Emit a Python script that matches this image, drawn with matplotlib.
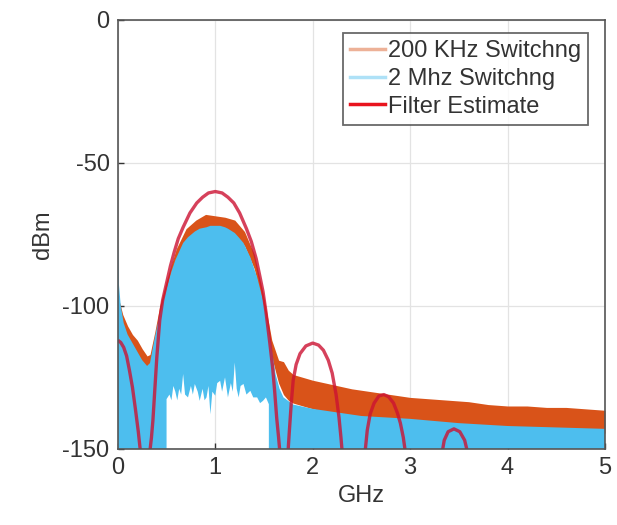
import matplotlib
matplotlib.use("Agg")
import matplotlib.pyplot as plt
from matplotlib.lines import Line2D

plt.rcParams['font.family'] = ['Liberation Sans', 'DejaVu Sans']
plt.rcParams['axes.unicode_minus'] = False

# ---- data (GHz, dBm) ----
x_orange = [0, 0.02, 0.05, 0.1, 0.15, 0.2, 0.25, 0.3, 0.33, 0.38, 0.43, 0.5, 0.6, 0.7, 0.8, 0.9,
            1.0, 1.1, 1.2, 1.3, 1.4, 1.5, 1.58, 1.65, 1.7, 1.75, 1.8, 1.9, 2.0, 2.2, 2.4, 2.6,
            2.8, 3.0, 3.2, 3.4, 3.6, 3.8, 4.0, 4.2, 4.4, 4.6, 4.8, 5.0]
orange_hi = [-98, -99, -103, -107, -110, -112, -115, -117.5, -117, -109, -100, -91, -80, -73, -70, -68,
             -68.5, -69, -70, -74, -82, -97, -112, -119, -119.5, -122.5, -124, -125, -126, -127.5, -129, -130,
             -131, -132, -132.5, -133, -133.5, -134.5, -135, -135, -135.5, -135.5, -136, -136.5]
orange_lo = [-104, -104, -107, -111, -114, -117, -120, -122, -122, -114, -106, -96, -85, -77, -74, -73,
             -73, -73.5, -75, -79, -87, -102, -118, -127, -131, -133, -134, -135, -136, -137.5, -139.5, -140,
             -140.5, -141, -141.5, -142, -142.5, -143, -143.5, -143.5, -144, -144, -144.5, -144.5]

# upper edge of the 2 MHz trace
x_blue = [0, 0.01, 0.03, 0.06, 0.1, 0.15, 0.2, 0.25, 0.3, 0.33, 0.38, 0.43, 0.5, 0.55, 0.59,
          0.63, 0.67, 0.72, 0.79, 0.84, 0.91, 0.95, 1.0, 1.05, 1.1, 1.13, 1.2, 1.24, 1.29, 1.36, 1.43,
          1.49, 1.55, 1.56, 1.62, 1.66, 1.7, 1.8, 2.0, 2.5, 3.0, 3.5, 4.0, 4.5, 5.0]
blue_hi = [-75, -92, -100, -106, -110, -113, -116, -119, -121, -120, -111, -103, -94, -88, -84,
           -81, -78, -76, -74, -73, -72.5, -72, -72, -72, -72.5, -73, -74.5, -76, -78, -83, -90,
           -98, -109, -111, -124, -129, -132, -134.5, -136, -138.5, -139.5, -141, -142, -142.5, -143]
# lower edge of the 2 MHz trace (white notch under the main lobe)
x_blue_lo = [0, 0.50, 0.50, 0.53, 0.55, 0.57, 0.59, 0.61, 0.63, 0.65, 0.67, 0.69, 0.72, 0.75, 0.77,
             0.79, 0.82, 0.84, 0.87, 0.89, 0.91, 0.93, 0.95, 0.97, 1.0, 1.02, 1.05, 1.07, 1.1, 1.13,
             1.16, 1.18, 1.2, 1.22, 1.24, 1.26, 1.29, 1.32, 1.36, 1.39, 1.43, 1.46, 1.49, 1.52, 1.55,
             1.55, 5.0]
blue_lo = [-150, -150, -132.6, -131, -133, -128, -130, -133, -129, -131, -123.8, -131, -132, -128, -131,
           -127.3, -130, -133.2, -129, -133, -132, -128, -137.9, -130, -131.4, -127, -126.2, -130, -125, -132,
           -127, -130, -119.8, -129, -132, -128, -127.3, -131, -129.7, -132, -132, -134, -133.2, -132, -134.4,
           -150, -150]

filt_x0 = [0, 0.03, 0.06, 0.09, 0.12, 0.15, 0.18, 0.21, 0.235]
filt_y0 = [-112, -112.8, -114.5, -117.5, -122.7, -128.5, -136, -144, -152]
filt_x1 = [0.325, 0.345, 0.36, 0.38, 0.40, 0.43, 0.46, 0.5, 0.54, 0.58, 0.62, 0.67, 0.74, 0.81, 0.87,
           0.93, 1.0, 1.07, 1.13, 1.19, 1.25, 1.32, 1.37, 1.42, 1.46, 1.49, 1.52, 1.56, 1.59, 1.61,
           1.63, 1.65, 1.665]
filt_y1 = [-152, -146, -140, -129, -118, -105, -98, -92, -86, -81, -76.5, -72.5, -67.5, -64, -62,
           -60.5, -60, -60.5, -62, -64, -67.5, -73, -77.5, -83.5, -90, -95, -102, -113, -122, -130,
           -139, -146, -152]
filt_x2 = [1.745, 1.76, 1.78, 1.8, 1.83, 1.87, 1.93, 2.0, 2.06, 2.11, 2.16, 2.2, 2.24, 2.27, 2.29, 2.305]
filt_y2 = [-152, -144, -134, -126, -120.5, -116.7, -114, -113, -113.7, -115.5, -119, -123.5, -131, -139, -146, -152]
filt_x3 = [2.535, 2.56, 2.59, 2.63, 2.68, 2.73, 2.78, 2.83, 2.87, 2.9, 2.93, 2.955]
filt_y3 = [-152, -143.5, -137.8, -134, -131.5, -131, -131.8, -134, -137.5, -141, -146, -152]
filt_x4 = [3.325, 3.35, 3.39, 3.45, 3.51, 3.56, 3.595]
filt_y4 = [-152, -147, -144, -143, -144, -147, -152]

labels = ['200 KHz Switchng', '2 Mhz Switchng', 'Filter Estimate']
xticks = [0, 1, 2, 3, 4, 5]
yticks = [-150, -100, -50, 0]

c_orange = '#D95319'
c_blue = '#4DBEEE'
c_red = '#CC1232'
txt = '#333333'

fig = plt.figure(figsize=(6.17, 5.25), dpi=100)
ax = fig.add_axes([0.191, 0.145, 0.7895, 0.817])

ax.fill_between(x_orange, orange_lo, orange_hi, color=c_orange, lw=0, zorder=2)
ax.fill(x_blue + x_blue_lo[::-1], blue_hi + blue_lo[::-1], color=c_blue, lw=0, zorder=3)
for fx, fy in [(filt_x0, filt_y0), (filt_x1, filt_y1), (filt_x2, filt_y2),
               (filt_x3, filt_y3), (filt_x4, filt_y4)]:
    ax.plot(fx, fy, color=c_red, lw=2.4, alpha=0.8, zorder=4, solid_capstyle='butt',
            solid_joinstyle='round')

ax.set_xlim(0, 5)
ax.set_ylim(-150, 0)
ax.set_xticks(xticks)
ax.set_yticks(yticks)
ax.set_xticklabels([str(v) for v in xticks])
ax.set_yticklabels([str(v) for v in yticks])
ax.grid(True, color='#E3E3E3', lw=0.9, zorder=0)
ax.set_axisbelow(True)
ax.tick_params(direction='in', length=4, width=1, colors=txt, labelsize=17,
               top=False, right=False, pad=6)
for s in ax.spines.values():
    s.set_color('#555555')
    s.set_linewidth(1.2)
    s.set_zorder(5)

ax.set_xlabel('GHz', fontsize=17, color=txt, labelpad=4)
ax.set_ylabel('dBm', fontsize=17, color=txt, labelpad=6)

handles = [Line2D([], [], color=c_orange, lw=2.5, alpha=0.45),
           Line2D([], [], color=c_blue, lw=2.5, alpha=0.45),
           Line2D([], [], color='#E8141E', lw=2.5)]
leg = ax.legend(handles, labels, loc='upper right', bbox_to_anchor=(0.965, 0.97),
                fontsize=17, frameon=True, fancybox=False, handlelength=1.5,
                handletextpad=0.1, labelspacing=0.25, borderpad=0.3, borderaxespad=0)
leg.get_frame().set_edgecolor('#444444')
leg.get_frame().set_linewidth(1.3)
for t in leg.get_texts():
    t.set_color(txt)

fig.savefig('out.png', dpi=100)
